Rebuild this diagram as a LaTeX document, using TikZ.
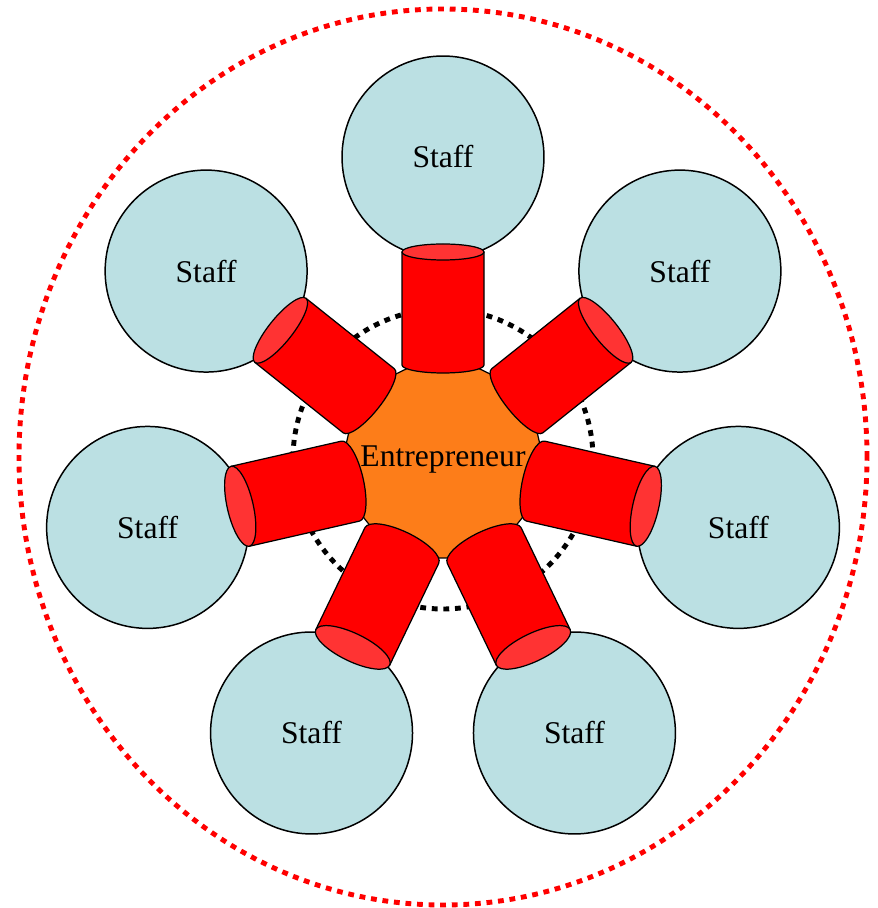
\documentclass[tikz,border=0pt]{standalone}
\usepackage{fontspec}
\setmainfont{Liberation Serif}
\usetikzlibrary{shapes.geometric}
\definecolor{staffblue}{RGB}{187,224,227}
\definecolor{entorange}{RGB}{253,125,25}
\definecolor{canred}{RGB}{255,0,0}
\definecolor{lidred}{RGB}{255,51,51}
\begin{document}
\begin{tikzpicture}[x=0.02cm,y=0.02cm,
    every node/.style={font=\fontsize{18}{21}\selectfont},
    staff/.style={circle,draw,line width=0.85pt,fill=staffblue,minimum size=4.04cm,inner sep=0},
    can/.style={fill=canred,draw,line width=0.7pt,line join=round},
    lid/.style={fill=lidred,draw,line width=0.7pt}]
    \useasboundingbox (-443,-448) rectangle (434,460);
    % outer ring
    \draw[red,line width=2.8pt,dash pattern=on 3.3pt off 3.3pt] (0,3) ellipse[x radius=424,y radius=448];
    \foreach \k in {0,...,6}
        \node[staff] (s\k) at ({90-\k*360/7}:303) {Staff};
    % inner ring
    \draw[line width=2.8pt,dash pattern=on 3.3pt off 3.3pt] (0,1) circle[radius=150];
    \node[regular polygon,regular polygon sides=14,minimum size=4.02cm,inner sep=0,
        draw,line width=0.7pt,fill=entorange] (ent) at (0,0) {};
    % cans
    \foreach \k/\m in {0/8,1/12,2/13,3/14,4/14,5/13,6/12} {
        \begin{scope}[shift={(ent.center)},rotate={90-\k*360/7}]
            \draw[can] (95,41) arc[start angle=90,end angle=270,x radius=\m,y radius=41]
                -- (208,-41) -- (208,41) -- cycle;
            \draw[lid] (208,0) ellipse[x radius=\m,y radius=41];
        \end{scope}
    }
    \node (entlabel) at (ent.center) {Entrepreneur};
\end{tikzpicture}
\end{document}
